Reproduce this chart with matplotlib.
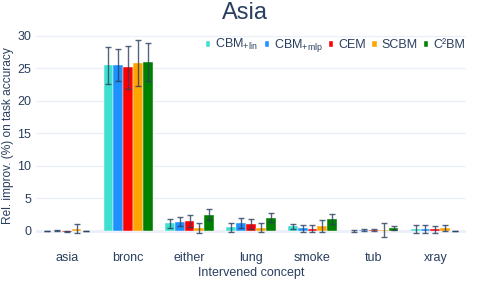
import numpy as np
import matplotlib.pyplot as plt

plt.rcParams['font.family'] = ['Liberation Sans', 'DejaVu Sans']

# Data
concepts = ['asia', 'bronc', 'either', 'lung', 'smoke', 'tub', 'xray']
models = ['CBM$_{\\mathregular{+lin}}$', 'CBM$_{\\mathregular{+mlp}}$', 'CEM', 'SCBM', 'C²BM']
colors = ['#40E0D0', '#1E90FF', '#FF0000', '#FFA500', '#008000']

cbm_lin = [0.0, 25.4, 1.2, 0.55, 0.7, 0.0, 0.3]
cbm_lin_err = [0.05, 2.8, 0.7, 0.65, 0.4, 0.1, 0.6]
cbm_mlp = [0.05, 25.5, 1.4, 1.2, 0.4, 0.15, 0.3]
cbm_mlp_err = [0.05, 2.45, 0.7, 0.8, 0.55, 0.1, 0.6]
cem = [-0.1, 25.1, 1.55, 1.05, 0.35, 0.15, 0.25]
cem_err = [0.05, 3.3, 0.9, 0.75, 0.5, 0.1, 0.5]
scbm = [0.3, 25.8, 0.4, 0.5, 0.72, 0.1, 0.45]
scbm_err = [0.7, 3.5, 0.8, 0.7, 0.9, 1.1, 0.45]
c2bm = [0.0, 25.95, 2.5, 2.05, 1.8, 0.45, 0.0]
c2bm_err = [0.05, 2.9, 0.9, 0.75, 0.75, 0.3, 0.05]

values = [cbm_lin, cbm_mlp, cem, scbm, c2bm]
errors = [cbm_lin_err, cbm_mlp_err, cem_err, scbm_err, c2bm_err]

text_col = '#2a3f5f'
fig = plt.figure(figsize=(4.88, 2.82), dpi=100)
ax = fig.add_axes([36 / 488, 1 - 240 / 282, 430 / 488, 211 / 282])

x = np.arange(len(concepts))
w = 0.8 / len(models)
for i, (vals, errs) in enumerate(zip(values, errors)):
    pos = x - 0.4 + w * (i + 0.5)
    ax.bar(pos, vals, w, color=colors[i], label=models[i], zorder=2,
           edgecolor='white', linewidth=0.3)
    ax.errorbar(pos, vals, yerr=errs, fmt='none', ecolor=text_col,
                elinewidth=1.0, capsize=2, capthick=1.0, alpha=0.8, zorder=3)

ax.set_xlim(-0.5, len(concepts) - 0.5)
ax.set_ylim(-1.4, 31.0)
ax.set_yticks(range(0, 31, 5))
ax.set_xticks(x)
ax.set_xticklabels(concepts)
ax.grid(axis='y', color='#EBF0F8', linewidth=1, zorder=0)
ax.axhline(0, color='#EBF0F8', linewidth=2, zorder=1)
for s in ax.spines.values():
    s.set_visible(False)
ax.tick_params(length=0, colors=text_col, labelsize=9)
ax.tick_params(axis='x', pad=8.5)
ax.set_xlabel('Intervened concept', color=text_col, fontsize=9, labelpad=2)

fig.text(8 / 488, 1 - 136 / 282, 'Rel. improv. (%) on task accuracy', rotation=90,
         ha='center', va='center', fontsize=8.6, color=text_col)
fig.text(245 / 488, 1 - 13 / 282, 'Asia', ha='center', va='center', fontsize=17, color=text_col)

leg = ax.legend(loc='upper right', bbox_to_anchor=(1.01, 0.985), ncol=5, frameon=False,
                fontsize=9, handlelength=0.35, handleheight=0.35, handletextpad=0.4,
                columnspacing=0.5, labelcolor=text_col, borderaxespad=0)

fig.savefig('out.png', dpi=100)
